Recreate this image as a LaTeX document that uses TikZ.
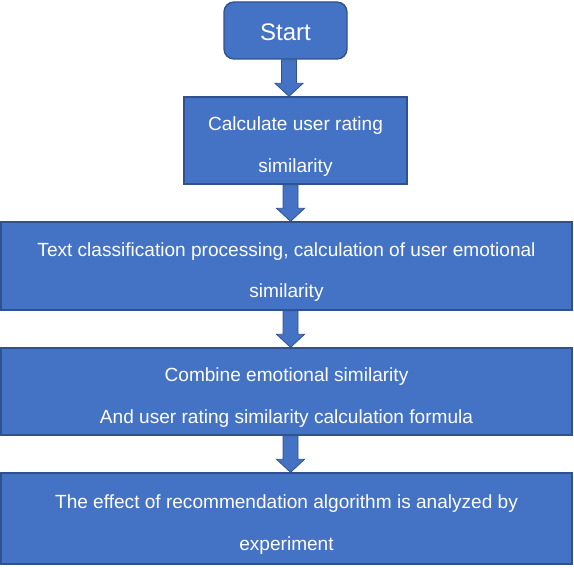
\documentclass[tikz,border=0pt]{standalone}
\usepackage{fontspec}
\setmainfont{Liberation Sans}
\usetikzlibrary{calc}
\definecolor{boxblue}{HTML}{4472C4}
\definecolor{edgeblue}{HTML}{2F528F}
\tikzset{
  box/.style={draw=edgeblue, line width=1pt, fill=boxblue, inner sep=0pt},
  startbox/.style={box, rounded corners=7.5pt},
  txt/.style={text=white, align=center, inner sep=0pt, font=\fontsize{14.3}{31}\selectfont},
  starttxt/.style={txt, font=\fontsize{18}{22}\selectfont},
  arr/.style={draw=edgeblue, line width=0.6pt, fill=boxblue},
}
\newcommand\blockarr[3]{%
  \path let \p1=(#1.south), \p2=(#2.north) in [arr]
    (#3-5.6pt,\y1) -- (#3+5.6pt,\y1) -- (#3+5.6pt,\y2+9.75pt) -- (#3+10.5pt,\y2+9.75pt)
    -- (#3,\y2) -- (#3-10.5pt,\y2+9.75pt) -- (#3-5.6pt,\y2+9.75pt) -- cycle;}
\begin{document}
\begin{tikzpicture}[x=0.75pt,y=-0.75pt]
\useasboundingbox (0,0) rectangle (574,567);
\node[startbox, minimum width=92.25pt, minimum height=42.75pt] (s) at (285.5,30.5) {};
\node[box, minimum width=167.25pt, minimum height=65.25pt] (b1) at (295.5,140.5) {};
\node[box, minimum width=428.25pt, minimum height=66pt] (b2) at (286.5,266) {};
\node[box, minimum width=428.25pt, minimum height=65.25pt] (b3) at (286.5,391.5) {};
\node[box, minimum width=428.25pt, minimum height=68.25pt] (b4) at (286.5,518.5) {};
\node[starttxt] (st) at ([yshift=-1.5pt]s.center) {Start};
\node[txt] (b1t) at ([yshift=-4.5pt]b1.center) {Calculate user rating\\similarity};
\node[txt] (b2t) at ([yshift=-4.5pt]b2.center) {Text classification processing, calculation of user emotional\\similarity};
\node[txt] (b3t) at ([yshift=-4.5pt]b3.center) {Combine emotional similarity\\And user rating similarity calculation formula};
\node[txt] (b4t) at ([yshift=-4.5pt]b4.center) {The effect of recommendation algorithm is analyzed by\\experiment};
\blockarr{s}{b1}{216.75pt}
\blockarr{b1}{b2}{217.9pt}
\blockarr{b2}{b3}{217.9pt}
\blockarr{b3}{b4}{217.9pt}
\end{tikzpicture}
\end{document}
